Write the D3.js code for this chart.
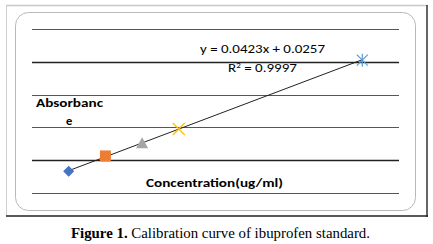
<!DOCTYPE html>
<html><head><meta charset="utf-8">
<script src="https://cdn.jsdelivr.net/npm/d3@7"></script>
<style>html,body{margin:0;padding:0;background:#fff;}svg{display:block;}</style>
</head><body>
<script>
const concentrations = [1, 2, 3, 4, 9];
const absorbances = [0.066, 0.113, 0.150, 0.195, 0.405];
const markerShapes = ["diamond", "square", "triangle", "x", "asterisk"];
const markerColors = ["#4472C4", "#ED7D31", "#A5A5A5", "#FFC000", "#5B9BD5"];
const yTicks = [0, 0.1, 0.2, 0.3, 0.4, 0.5];
const slope = 0.0423, intercept = 0.0257;
const equationText = "y = 0.0423x + 0.0257";
const r2Value = "0.9997";
const xTitle = "Concentration(ug/ml)";
const yTitleParts = ["Absorbanc", "e"];

const W = 433, H = 244;
const svg = d3.select("body").append("svg").attr("width", W).attr("height", H);

// outer frame
svg.append("line").attr("x1",6).attr("x2",428).attr("y1",5.5).attr("y2",5.5).attr("stroke","#c8c8c8").attr("stroke-width",1.5);
svg.append("line").attr("x1",6.5).attr("x2",6.5).attr("y1",5).attr("y2",216).attr("stroke","#d0d0d0").attr("stroke-width",1);
svg.append("line").attr("x1",427).attr("x2",427).attr("y1",5).attr("y2",217).attr("stroke","#333").attr("stroke-width",1.5);
svg.append("line").attr("x1",6).attr("x2",428).attr("y1",216).attr("y2",216).attr("stroke","#222").attr("stroke-width",1.5);

// chart area rounded border
svg.append("rect").attr("x",15.5).attr("y",12.5).attr("width",400).attr("height",198)
  .attr("rx",13).attr("fill","#fff").attr("stroke","#b8b8b8").attr("stroke-width",1);

const x = d3.scaleLinear().domain([0, 10]).range([32, 399]);
const y = d3.scaleLinear().domain([0, 0.5]).range([193, 29]);

// gridlines
const grid = svg.append("g");
grid.selectAll("line").data(yTicks).join("line")
  .attr("x1", x(0)).attr("x2", x(10))
  .attr("y1", d => Math.round(y(d)) + 0.5).attr("y2", d => Math.round(y(d)) + 0.5)
  .attr("stroke", (d,i) => (i===1||i===4) ? "#222" : "#555")
  .attr("stroke-width", (d,i) => (i===1||i===4) ? 1.4 : 1);

// trendline
const x0 = concentrations[0], x1 = concentrations[concentrations.length-1];
svg.append("line")
  .attr("x1", x(x0)).attr("y1", y(slope*x0+intercept))
  .attr("x2", x(x1)).attr("y2", y(slope*x1+intercept))
  .attr("stroke","#222").attr("stroke-width",1);

// markers
const pts = concentrations.map((c,i)=>({c, a: absorbances[i], s: markerShapes[i], col: markerColors[i]}));
const mg = svg.append("g");
pts.forEach(p => {
  const cx = x(p.c), cy = y(p.a);
  const g = mg.append("g").attr("transform", `translate(${cx},${cy})`);
  if (p.s === "diamond") {
    g.append("path").attr("d", "M0,-5.5L5.5,0L0,5.5L-5.5,0Z").attr("fill", p.col);
  } else if (p.s === "square") {
    g.append("rect").attr("x",-5.5).attr("y",-5.5).attr("width",11).attr("height",11).attr("fill", p.col);
  } else if (p.s === "triangle") {
    g.append("path").attr("d", "M0,-6.5L6,4.5L-6,4.5Z").attr("fill", p.col);
  } else if (p.s === "x") {
    g.append("path").attr("d", "M-6,-6L6,6M-6,6L6,-6").attr("stroke", p.col).attr("stroke-width",1.3);
  } else {
    g.append("path").attr("d", "M-5.5,-5.5L5.5,5.5M-5.5,5.5L5.5,-5.5M0,-6.5L0,6.5").attr("stroke", p.col).attr("stroke-width",1.2);
  }
});

const sans = "Carlito, Lato, 'Open Sans', 'Liberation Sans', sans-serif";
// equation
svg.append("text").attr("x", 200).attr("y", 53).attr("font-family", sans).attr("font-size", 12.5)
  .attr("fill","#000").attr("textLength",125).attr("lengthAdjust","spacingAndGlyphs").text(equationText);
const r2 = svg.append("text").attr("x", 228).attr("y", 72).attr("font-family", sans).attr("font-size", 12.5)
  .attr("fill","#000").attr("textLength",69).attr("lengthAdjust","spacingAndGlyphs");
r2.append("tspan").text("R");
r2.append("tspan").attr("dy",-4).attr("font-size",7.5).text("2");
r2.append("tspan").attr("dy",4).text(" = " + r2Value);

// axis titles
svg.append("text").attr("x", 36).attr("y", 107).attr("font-family", sans).attr("font-weight","bold").attr("font-size", 12.5)
  .attr("fill","#000").attr("textLength",67).attr("lengthAdjust","spacingAndGlyphs").text(yTitleParts[0]);
svg.append("text").attr("x", 66).attr("y", 125).attr("font-family", sans).attr("font-weight","bold").attr("font-size", 12.5)
  .attr("fill","#000").text(yTitleParts[1]);
svg.append("text").attr("x", 146).attr("y", 187).attr("font-family", sans).attr("font-weight","bold").attr("font-size", 12.5)
  .attr("fill","#000").attr("textLength",137).attr("lengthAdjust","spacingAndGlyphs").text(xTitle);

// caption
const cap = svg.append("text").attr("x", 71).attr("y", 238).attr("font-family","'Liberation Serif', 'Times New Roman', serif")
  .attr("font-size", 14).attr("fill","#000").attr("textLength",299).attr("lengthAdjust","spacingAndGlyphs");
cap.append("tspan").attr("font-weight","bold").text("Figure 1.");
cap.append("tspan").text(" Calibration curve of ibuprofen standard.");
</script>
</body></html>
